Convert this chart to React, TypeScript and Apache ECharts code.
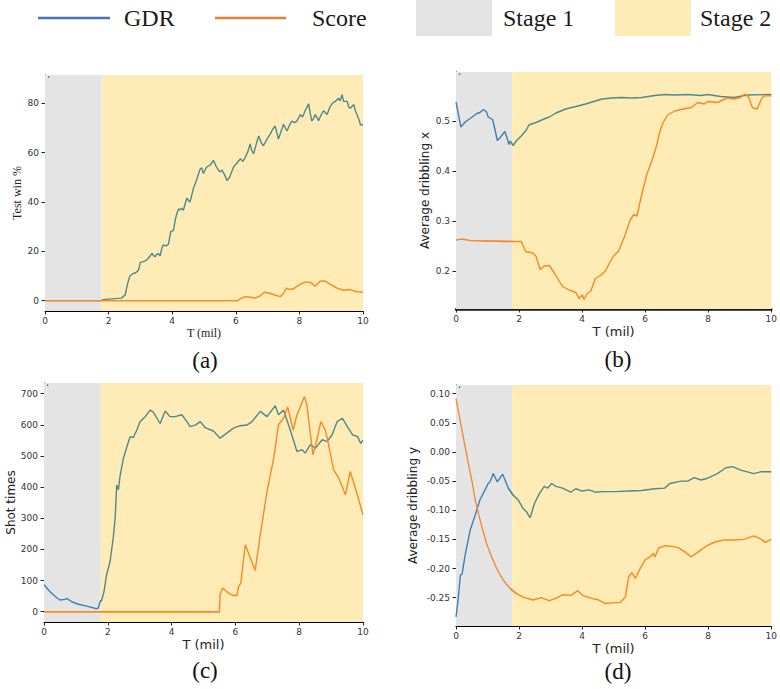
import React, { useEffect, useRef } from "react";
import * as echarts from "echarts";

// ---------- data ----------
const STAGE_SPLIT = 1.78;

// (a) Test win %
const gdrWinRate: number[][] = [
  [0, 0], [1.76, 0], [1.9, 0.5], [2.2, 0.8], [2.4, 1], [2.47, 1.8], [2.52, 2.2], [2.6, 7], [2.67, 10], [2.77, 11],
  [2.85, 11.3], [2.9, 11.8], [2.94, 12.5], [3.0, 15.5], [3.1, 15.8], [3.2, 16.5], [3.3, 18], [3.36, 19.2], [3.42, 18.2],
  [3.46, 17.8], [3.52, 18.8], [3.57, 19], [3.62, 18.2], [3.68, 21.5], [3.72, 22.6], [3.8, 22.2], [3.88, 22.8],
  [3.955, 28], [4.04, 28.5], [4.1, 33], [4.14, 35], [4.2, 37.2], [4.25, 36.8], [4.3, 37.5], [4.35, 36.6], [4.46, 41.6],
  [4.52, 40.5], [4.56, 40], [4.67, 45.6], [4.77, 49], [4.83, 51.5], [4.88, 53.4], [4.93, 53.8], [4.98, 51.5],
  [5.04, 53.2], [5.09, 54.2], [5.2, 55], [5.3, 56.9], [5.38, 54.5], [5.45, 53], [5.5, 52.2], [5.56, 53], [5.65, 51],
  [5.72, 48.7], [5.78, 49.5], [5.82, 50.5], [5.93, 54.2], [6.05, 56], [6.14, 57.5], [6.22, 56.5], [6.3, 58.2],
  [6.38, 60.5], [6.45, 63.5], [6.5, 61], [6.56, 59.5], [6.65, 63.8], [6.72, 66.8], [6.8, 64], [6.87, 62.8],
  [6.98, 65.5], [7.08, 67.5], [7.16, 69.5], [7.24, 70.8], [7.34, 65.5], [7.42, 68.5], [7.5, 71.5], [7.56, 70],
  [7.61, 68.8], [7.7, 71.5], [7.76, 72.8], [7.85, 72.2], [7.92, 72.8], [8.03, 75.5], [8.1, 74.5], [8.18, 77],
  [8.29, 79.8], [8.34, 76], [8.39, 72.8], [8.45, 74], [8.5, 75.5], [8.6, 73], [8.68, 75.2], [8.76, 77], [8.87, 75.5],
  [8.97, 78.8], [9.05, 80.2], [9.13, 80.8], [9.23, 82.1], [9.28, 81], [9.34, 83.5], [9.39, 80.8], [9.5, 80.8],
  [9.55, 78.5], [9.6, 78], [9.71, 79.5], [9.76, 77], [9.81, 75.5], [9.87, 73.5], [9.92, 71.3], [10, 71.3]
];
const scoreWinRate: number[][] = [
  [0, 0], [6.05, 0], [6.15, 0.8], [6.3, 1.6], [6.45, 1.4], [6.6, 1], [6.75, 1.8], [6.9, 3.4], [7.05, 3], [7.2, 2.4],
  [7.4, 1.6], [7.5, 3], [7.6, 5.1], [7.7, 4.6], [7.8, 4.7], [8.0, 6.5], [8.2, 7.6], [8.35, 7.4], [8.5, 5.8],
  [8.65, 7.9], [8.8, 8], [8.95, 6.8], [9.18, 5.1], [9.39, 4.2], [9.6, 4.5], [9.8, 3.6], [10, 3.4]
];

// (b) Average dribbling x
const gdrDribbleX: number[][] = [
  [0, 0.538], [0.157, 0.488], [0.29, 0.498], [0.45, 0.505], [0.66, 0.515], [0.76, 0.517], [0.87, 0.523],
  [0.97, 0.518], [1.02, 0.508], [1.16, 0.503], [1.24, 0.482], [1.31, 0.461], [1.39, 0.466], [1.55, 0.479],
  [1.62, 0.466], [1.68, 0.453], [1.72, 0.46], [1.81, 0.451], [1.91, 0.46], [2.07, 0.47], [2.23, 0.482],
  [2.31, 0.492], [2.54, 0.497], [2.75, 0.503], [2.96, 0.508], [3.17, 0.516], [3.48, 0.524], [3.8, 0.529],
  [4.11, 0.534], [4.42, 0.54], [4.63, 0.544], [4.95, 0.546], [5.26, 0.547], [5.57, 0.546], [5.89, 0.547],
  [6.31, 0.551], [6.62, 0.553], [6.93, 0.552], [7.35, 0.553], [7.77, 0.551], [7.98, 0.553], [8.4, 0.549],
  [8.82, 0.547], [9.24, 0.552], [10, 0.553]
];
const scoreDribbleX: number[][] = [
  [0, 0.262], [0.19, 0.264], [0.45, 0.261], [0.87, 0.26], [1.81, 0.259], [2.07, 0.259], [2.21, 0.239],
  [2.44, 0.236], [2.54, 0.229], [2.67, 0.203], [2.8, 0.21], [2.96, 0.211], [3.12, 0.196], [3.38, 0.169],
  [3.59, 0.162], [3.8, 0.157], [3.9, 0.145], [4.01, 0.152], [4.06, 0.143], [4.16, 0.155], [4.27, 0.159],
  [4.42, 0.185], [4.58, 0.191], [4.74, 0.2], [4.85, 0.214], [5.0, 0.23], [5.16, 0.24], [5.37, 0.273],
  [5.53, 0.303], [5.64, 0.313], [5.74, 0.31], [5.89, 0.353], [6.05, 0.393], [6.21, 0.42], [6.36, 0.45],
  [6.47, 0.48], [6.57, 0.497], [6.73, 0.513], [6.94, 0.52], [7.2, 0.524], [7.46, 0.527], [7.67, 0.537],
  [7.88, 0.534], [7.98, 0.539], [8.29, 0.537], [8.6, 0.546], [8.82, 0.544], [9.03, 0.547], [9.15, 0.554],
  [9.29, 0.547], [9.4, 0.527], [9.55, 0.524], [9.71, 0.547], [9.81, 0.551], [10, 0.55]
];

// (c) Shot times
const gdrShots: number[][] = [
  [0, 87], [0.19, 64], [0.4, 45], [0.5, 37.5], [0.66, 39.6], [0.71, 42.8], [0.87, 32], [1.08, 24], [1.34, 18],
  [1.65, 9.6], [1.7, 11.8], [1.76, 32], [1.81, 37.5], [1.88, 64], [1.96, 118], [2.07, 161], [2.17, 236],
  [2.23, 300], [2.28, 407], [2.33, 391], [2.39, 439], [2.49, 493], [2.6, 530], [2.7, 562], [2.8, 559],
  [2.91, 583], [3.01, 610], [3.17, 626], [3.33, 647], [3.43, 640], [3.64, 604], [3.8, 644], [3.95, 626],
  [4.11, 626], [4.32, 632], [4.48, 610], [4.58, 594], [4.74, 599], [4.9, 610], [5.05, 591], [5.31, 580],
  [5.52, 557], [5.73, 573], [5.94, 589], [6.15, 597], [6.36, 599], [6.52, 610], [6.78, 643], [6.99, 626],
  [7.25, 661], [7.35, 632], [7.51, 647], [7.72, 583], [7.93, 514], [8.09, 520], [8.19, 509], [8.35, 536],
  [8.51, 525], [8.72, 552], [8.87, 546], [9.03, 568], [9.19, 610], [9.35, 621], [9.51, 594], [9.67, 568],
  [9.83, 562], [9.93, 540], [10, 551]
];
const scoreShots: number[][] = [
  [0, 0], [5.5, 0], [5.52, 54.6], [5.6, 76], [5.78, 60], [5.94, 52], [6.05, 52], [6.1, 81], [6.17, 92],
  [6.31, 215], [6.47, 172], [6.62, 132], [6.78, 247], [6.99, 385], [7.2, 492], [7.35, 600], [7.51, 621],
  [7.64, 657], [7.81, 583], [7.93, 632], [8.04, 659], [8.16, 691], [8.24, 664], [8.43, 504], [8.53, 541],
  [8.68, 610], [8.82, 583], [8.92, 536], [9.08, 455], [9.24, 429], [9.45, 375], [9.6, 450], [9.76, 397],
  [10, 311]
];

// (d) Average dribbling y
const gdrDribbleY: number[][] = [
  [0, -0.283], [0.06, -0.257], [0.14, -0.211], [0.19, -0.21], [0.29, -0.177], [0.45, -0.134], [0.61, -0.108],
  [0.76, -0.082], [0.92, -0.065], [1.02, -0.054], [1.08, -0.051], [1.18, -0.037], [1.31, -0.051], [1.48, -0.038],
  [1.66, -0.062], [1.81, -0.074], [1.97, -0.082], [2.13, -0.097], [2.23, -0.102], [2.35, -0.113], [2.49, -0.088],
  [2.65, -0.071], [2.8, -0.059], [2.91, -0.062], [3.03, -0.054], [3.17, -0.059], [3.38, -0.062], [3.64, -0.069],
  [3.8, -0.063], [4.01, -0.067], [4.22, -0.065], [4.43, -0.069], [4.64, -0.068], [5.06, -0.068], [5.48, -0.067],
  [5.89, -0.066], [6.31, -0.063], [6.62, -0.062], [6.78, -0.054], [7.14, -0.05], [7.35, -0.05], [7.56, -0.044],
  [7.77, -0.048], [7.98, -0.045], [8.29, -0.037], [8.56, -0.027], [8.77, -0.025], [9.03, -0.031], [9.45, -0.037],
  [9.66, -0.034], [10, -0.034]
];
const scoreDribbleY: number[][] = [
  [0, 0.092], [0.08, 0.069], [0.19, 0.037], [0.29, 0.009], [0.4, -0.022], [0.51, -0.051], [0.61, -0.082],
  [0.71, -0.105], [0.82, -0.128], [0.97, -0.157], [1.13, -0.18], [1.29, -0.2], [1.5, -0.22], [1.71, -0.234],
  [1.92, -0.243], [2.13, -0.249], [2.44, -0.254], [2.7, -0.25], [2.96, -0.255], [3.17, -0.251], [3.38, -0.245],
  [3.64, -0.246], [3.86, -0.238], [4.01, -0.246], [4.22, -0.25], [4.53, -0.254], [4.74, -0.26], [4.95, -0.259],
  [5.21, -0.258], [5.37, -0.249], [5.48, -0.214], [5.58, -0.207], [5.69, -0.217], [5.84, -0.2], [6.0, -0.185],
  [6.15, -0.18], [6.26, -0.174], [6.31, -0.18], [6.42, -0.165], [6.62, -0.161], [6.84, -0.162], [7.05, -0.164],
  [7.25, -0.171], [7.46, -0.18], [7.62, -0.174], [7.77, -0.168], [7.98, -0.16], [8.24, -0.154], [8.5, -0.151],
  [8.82, -0.151], [9.13, -0.15], [9.45, -0.144], [9.66, -0.149], [9.81, -0.155], [10, -0.15]
];

const yTicksA = [0, 20, 40, 60, 80];
const yTicksB = [0.2, 0.3, 0.4, 0.5];
const yTicksC = [0, 100, 200, 300, 400, 500, 600, 700];
const yTicksD = [-0.25, -0.2, -0.15, -0.1, -0.05, 0, 0.05, 0.1];

const legendLabels = ["GDR", "Score", "Stage 1", "Stage 2"];
const captions = ["(a)", "(b)", "(c)", "(d)"];

// ---------- style ----------
const GREY = "#e4e4e4";
const YELLOW = "#ffebb5";
const BLUE1 = "#3f7fb8";
const TEAL2 = "#4e8a8c";
const ORANGE1 = "#ee8d3a";
const ORANGE2 = "#f78a22";
const SERIF = '"Liberation Serif", "Times New Roman", serif';
const SANS = '"DejaVu Sans", sans-serif';

type Panel = {
  grid: { left: number; top: number; width: number; height: number };
  yMin: number; yMax: number; yTicks: number[]; fmt: (v: number) => string;
  yName: string; yNameGap: number; nameFont: string; xNameSize: number; gdr: number[][]; score: number[][];
  thickBottom?: boolean; caption: string; capX: number; capY: number;
};

const panels: Panel[] = [
  { grid: { left: 45, top: 75, width: 318, height: 236 }, yMin: -4.2, yMax: 91.5, yTicks: yTicksA,
    fmt: (v) => String(v), yName: "Test win %", yNameGap: 22, nameFont: SERIF, xNameSize: 12, gdr: gdrWinRate,
    score: scoreWinRate, caption: captions[0], capX: 205, capY: 360 },
  { grid: { left: 456, top: 72, width: 318, height: 237 }, yMin: 0.124, yMax: 0.598, yTicks: yTicksB,
    fmt: (v) => v.toFixed(1), yName: "Average dribbling x", yNameGap: 25, nameFont: SANS, xNameSize: 13,
    gdr: gdrDribbleX, score: scoreDribbleX, thickBottom: true, caption: captions[1], capX: 618, capY: 359 },
  { grid: { left: 44, top: 383, width: 319, height: 239 }, yMin: -33, yMax: 734, yTicks: yTicksC,
    fmt: (v) => String(v), yName: "Shot times", yNameGap: 26, nameFont: SANS, xNameSize: 13, gdr: gdrShots,
    score: scoreShots, caption: captions[2], capX: 205, capY: 670 },
  { grid: { left: 456, top: 385, width: 318, height: 241 }, yMin: -0.2986, yMax: 0.115, yTicks: yTicksD,
    fmt: (v) => v.toFixed(2), yName: "Average dribbling y", yNameGap: 37, nameFont: SANS, xNameSize: 13,
    gdr: gdrDribbleY, score: scoreDribbleY, caption: captions[3], capX: 618, capY: 671 },
];

// split a curve into the stage-1 part and the stage-2 part (sharing the boundary segment)
function splitStages(pts: number[][]): [number[][], number[][]] {
  let k = pts.findIndex((p) => p[0] >= STAGE_SPLIT);
  if (k < 0) k = pts.length - 1;
  const first = pts.slice(0, k + 1);
  const second = pts.slice(Math.max(0, k - 1));
  return [first, second];
}

export default function App() {
  const ref = useRef<HTMLDivElement>(null);
  useEffect(() => {
    document.body.style.margin = "0";
    const chart = echarts.init(ref.current!, null, { renderer: "svg" });

    const grids: any[] = [];
    const xAxes: any[] = [];
    const yAxes: any[] = [];
    const series: any[] = [];
    const graphics: any[] = [];

    panels.forEach((p, i) => {
      grids.push({ ...p.grid, containLabel: false });
      xAxes.push({
        type: "value", gridIndex: i, min: 0, max: 10, interval: 2,
        axisLine: { show: true, onZero: false, lineStyle: { color: p.thickBottom ? "#1a1a1a" : "#000", width: p.thickBottom ? 2.5 : 1 } },
        axisTick: { show: true, length: 3.5, lineStyle: { color: "#222" } },
        axisLabel: { show: true, fontFamily: SANS, fontSize: 9, color: "#333", margin: 5 },
        splitLine: { show: false },
        name: "T (mil)", nameLocation: "middle", nameGap: 16,
        nameTextStyle: { fontFamily: p.nameFont, fontSize: p.xNameSize, color: "#222" },
      });
      yAxes.push({
        type: "value", gridIndex: i, min: p.yMin, max: p.yMax,
        axisLine: { show: true, onZero: false, lineStyle: { color: "#000", width: 1 } },
        axisTick: { show: true, length: 3.5, lineStyle: { color: "#222" }, customValues: p.yTicks },
        axisLabel: { show: true, fontFamily: SANS, fontSize: 9, color: "#333", margin: 6,
          customValues: p.yTicks, formatter: (v: number) => p.fmt(v) },
        splitLine: { show: false },
        name: p.yName, nameLocation: "middle", nameGap: p.yNameGap,
        nameTextStyle: { fontFamily: p.nameFont, fontSize: 12, color: "#222" },
      });
      const [g1, g2] = splitStages(p.gdr);
      const [s1, s2] = splitStages(p.score);
      const lineSeries = (name: string, data: number[][], color: string, z: number, extra: any = {}) => ({
        type: "line", name, xAxisIndex: i, yAxisIndex: i, data, showSymbol: false, z, silent: true,
        lineStyle: { width: 1.4, color }, itemStyle: { color }, ...extra,
      });
      series.push(lineSeries("GDR", g1, BLUE1, 3, {
        markArea: {
          silent: true,
          data: [
            [{ xAxis: 0, itemStyle: { color: GREY } }, { xAxis: STAGE_SPLIT }],
            [{ xAxis: STAGE_SPLIT, itemStyle: { color: YELLOW } }, { xAxis: 10 }],
          ],
        },
      }));
      series.push(lineSeries("GDR", g2, TEAL2, 3));
      series.push(lineSeries("Score", s1, ORANGE1, 4));
      series.push(lineSeries("Score", s2, ORANGE2, 4));
      graphics.push({
        type: "text", x: p.capX, y: p.capY,
        style: { text: p.caption, fontFamily: SERIF, fontSize: 23, fill: "#111", align: "center", verticalAlign: "middle" },
      });
      graphics.push({
        type: "rect", shape: { x: p.grid.left + 3, y: p.grid.top + 1.5, width: 1.2, height: 1.2 },
        style: { fill: "#333" }, z: 10,
      });
    });

    // legend
    const legY = 18;
    graphics.push(
      { type: "line", shape: { x1: 38, y1: legY, x2: 110, y2: legY }, style: { stroke: "#4472c4", lineWidth: 2.5 } },
      { type: "text", x: 124, y: legY, style: { text: legendLabels[0], fontFamily: SERIF, fontSize: 24, fill: "#1a1a1a", verticalAlign: "middle" } },
      { type: "line", shape: { x1: 215, y1: legY, x2: 286, y2: legY }, style: { stroke: "#ed7d31", lineWidth: 2.5 } },
      { type: "text", x: 312, y: legY, style: { text: legendLabels[1], fontFamily: SERIF, fontSize: 24, fill: "#1a1a1a", verticalAlign: "middle" } },
      { type: "rect", shape: { x: 416, y: 0, width: 76, height: 36 }, style: { fill: "#e3e3e3" } },
      { type: "text", x: 503, y: legY, style: { text: legendLabels[2], fontFamily: SERIF, fontSize: 24, fill: "#1a1a1a", verticalAlign: "middle" } },
      { type: "rect", shape: { x: 615, y: 0, width: 76, height: 36 }, style: { fill: YELLOW } },
      { type: "text", x: 700, y: legY, style: { text: legendLabels[3], fontFamily: SERIF, fontSize: 24, fill: "#1a1a1a", verticalAlign: "middle" } },
    );

    chart.setOption({
      animation: false,
      backgroundColor: "#fff",
      grid: grids,
      xAxis: xAxes,
      yAxis: yAxes,
      series,
      graphic: graphics,
    });
    return () => chart.dispose();
  }, []);
  return <div ref={ref} style={{ position: "absolute", left: 0, top: 0, width: 780, height: 689 }} />;
}
